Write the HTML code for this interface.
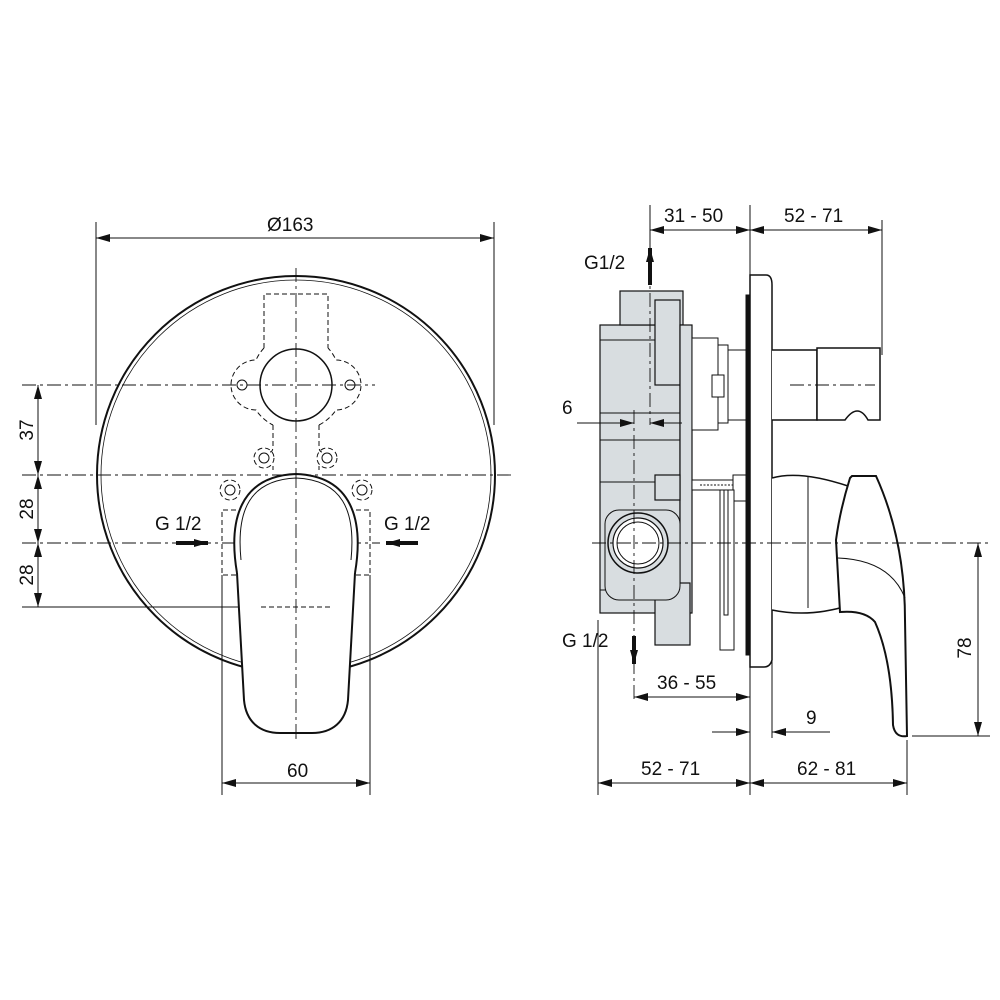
<!DOCTYPE html>
<html><head><style>
html,body{margin:0;padding:0;background:#fff;}
svg{display:block;}
text{font-family:"Liberation Sans",sans-serif;font-size:19px;fill:#111;}
</style></head><body>
<svg width="1000" height="1000" viewBox="0 0 1000 1000" xmlns="http://www.w3.org/2000/svg">
<defs>
<marker id="a" viewBox="0 0 14 8" refX="14" refY="4" markerWidth="14" markerHeight="8" orient="auto-start-reverse" markerUnits="userSpaceOnUse"><path d="M0,0 L14,4 L0,8 z" fill="#111"/></marker>
</defs>
<g stroke="#111" fill="none" stroke-width="1">
<line x1="96" y1="222" x2="96" y2="425"/>
<line x1="494" y1="222" x2="494" y2="425"/>
<line x1="96" y1="238" x2="494" y2="238" marker-start="url(#a)" marker-end="url(#a)"/>
<circle cx="296" cy="475" r="199" stroke-width="2"/>
<circle cx="296" cy="475" r="195" stroke-width="0.8"/>
<g stroke-dasharray="14 4 3 4" stroke-width="0.9">
<line x1="296" y1="268" x2="296" y2="740"/>
<line x1="22" y1="385" x2="375" y2="385"/>
<line x1="22" y1="475" x2="512" y2="475"/>
<line x1="22" y1="543" x2="380" y2="543"/>
</g>
<line x1="22" y1="607" x2="258" y2="607"/>
<g stroke-dasharray="5 3" stroke-width="1">
<path d="M264,348 V294 H328 V348"/>
<path d="M264,348 A45,45 0 0 0 256,360 A10,10 0 1 0 256,410 A45,45 0 0 0 273,425 M319,425 A45,45 0 0 0 336,410 A10,10 0 1 0 336,360 A45,45 0 0 0 328,348"/>
<path d="M273,425 V446 Q273,452 270,452 M319,425 V446 Q319,452 322,452"/>
<path d="M273,466 V470 M319,466 V470"/>
<circle cx="264" cy="458" r="10"/><circle cx="327" cy="458" r="10"/>
<circle cx="230" cy="490" r="10"/><circle cx="362" cy="490" r="10"/>
<path d="M236,510 H222 V575 H236 M356,510 H370 V575 H356"/>
<path d="M261,590 V604 H330 V590"/>
</g>
<circle cx="296" cy="385" r="36" stroke-width="1.5"/>
<circle cx="242" cy="385" r="5"/><circle cx="350" cy="385" r="5"/>
<circle cx="264" cy="458" r="5"/><circle cx="327" cy="458" r="5"/>
<circle cx="230" cy="490" r="5"/><circle cx="362" cy="490" r="5"/>
<circle cx="241" cy="547" r="1.5"/><circle cx="350" cy="547" r="1.5"/>
<path d="M237,573 C228,520 240,476 296,474 C352,476 364,520 355,573" stroke-width="2" fill="#fff"/>
<path d="M237,573 L244,700 C246,722 260,733 280,733 L312,733 C332,733 346,722 348,700 L355,573" stroke-width="2" fill="#fff"/>
<path d="M241,560 C236,510 250,480 296,478 C342,480 356,510 351,560" stroke-width="1"/>
<line x1="296" y1="474" x2="296" y2="740" stroke-dasharray="14 4 3 4" stroke-width="0.9"/>
<line x1="261" y1="607" x2="330" y2="607" stroke-dasharray="5 3"/>
<line x1="176" y1="543" x2="208" y2="543" stroke-width="4" marker-end="url(#a)"/>
<line x1="418" y1="543" x2="386" y2="543" stroke-width="4" marker-end="url(#a)"/>
<line x1="222" y1="575" x2="222" y2="795"/>
<line x1="370" y1="575" x2="370" y2="795"/>
<line x1="222" y1="783" x2="370" y2="783" marker-start="url(#a)" marker-end="url(#a)"/>
<line x1="38" y1="385" x2="38" y2="475" marker-start="url(#a)" marker-end="url(#a)"/>
<line x1="38" y1="475" x2="38" y2="543" marker-start="url(#a)" marker-end="url(#a)"/>
<line x1="38" y1="543" x2="38" y2="607" marker-start="url(#a)" marker-end="url(#a)"/>

<g fill="#d8dde0" stroke="#111" stroke-width="1.2">
<rect x="600" y="325" width="80" height="288"/>
<rect x="620" y="291" width="63" height="34"/>
<rect x="655" y="300" width="25" height="85"/>
<rect x="680" y="325" width="12" height="288"/>
<rect x="655" y="583" width="35" height="62"/>
<rect x="655" y="475" width="25" height="25"/>
</g>
<g stroke-width="1">
<line x1="600" y1="340" x2="655" y2="340"/><line x1="600" y1="413" x2="680" y2="413"/>
<line x1="600" y1="440" x2="680" y2="440"/><line x1="600" y1="482" x2="655" y2="482"/>
<line x1="600" y1="590" x2="655" y2="590"/>
<rect x="605" y="510" width="75" height="90" rx="14" fill="#d8dde0"/>
<circle cx="638" cy="543" r="30" fill="#d8dde0" stroke-width="1.5"/>
<circle cx="638" cy="543" r="25" fill="#fff" stroke-width="1.2"/>
<circle cx="638" cy="543" r="21" fill="#fff"/>
<rect x="692" y="338" width="26" height="92" fill="#fff"/>
<rect x="718" y="345" width="10" height="78" fill="#fff"/>
<rect x="712" y="375" width="12" height="22" fill="#fff"/>
<rect x="728" y="350" width="20" height="70" fill="#fff"/>
<rect x="692" y="480" width="60" height="10" fill="#fff"/>
<line x1="700" y1="485" x2="745" y2="485" stroke-dasharray="2 1.5"/>
<rect x="733" y="475" width="14" height="26" fill="#fff"/>
<rect x="720" y="490" width="14" height="160" fill="#fff"/>
<rect x="724" y="490" width="4" height="125" fill="#fff"/>
</g>
<rect x="746" y="295" width="4" height="360" fill="#111"/>
<path d="M750,275 H766 Q772,275 772,285 L772,660 Q770,667 764,667 H750 Z" fill="#fff" stroke-width="1.5"/>
<path d="M772,350 H817 V420 H772" fill="#fff" stroke-width="1.5"/>
<path d="M817,348 H880 V420 H868 Q858,402 845,420 H817 Z" fill="#fff" stroke-width="1.5"/>
<path d="M772,478 Q800,470 848,486 L850,605 Q810,618 772,610" fill="#fff" stroke-width="1.5"/>
<line x1="808" y1="476" x2="808" y2="608"/>
<path d="M850,478 L852,476 L876,476 Q905,540 905,620 L907,736 Q895,738 893,725 Q892,660 875,622 Q865,610 840,612 L836,540 Q840,510 850,478 Z" fill="#fff" stroke-width="2"/>
<path d="M838,558 Q890,560 905,598" stroke-width="1"/>
<g stroke-dasharray="14 4 3 4" stroke-width="0.9">
<line x1="650" y1="268" x2="650" y2="425"/>
<line x1="634" y1="410" x2="634" y2="700"/>
<line x1="790" y1="385" x2="875" y2="385"/>
<line x1="592" y1="543" x2="990" y2="543"/>
</g>
<line x1="650" y1="205" x2="650" y2="268"/>
<line x1="750" y1="205" x2="750" y2="275"/>
<line x1="882" y1="220" x2="882" y2="355"/>
<line x1="650" y1="230" x2="750" y2="230" marker-start="url(#a)" marker-end="url(#a)"/>
<line x1="750" y1="230" x2="882" y2="230" marker-start="url(#a)" marker-end="url(#a)"/>
<line x1="650" y1="285" x2="650" y2="248" stroke-width="4" marker-end="url(#a)"/>
<line x1="634" y1="636" x2="634" y2="664" stroke-width="4" marker-end="url(#a)"/>
<line x1="577" y1="423" x2="634" y2="423" marker-end="url(#a)"/>
<line x1="682" y1="423" x2="650" y2="423" marker-end="url(#a)"/>
<line x1="634" y1="697" x2="750" y2="697" marker-start="url(#a)" marker-end="url(#a)"/>
<line x1="750" y1="660" x2="750" y2="795"/>
<line x1="772" y1="660" x2="772" y2="738"/>
<line x1="712" y1="732" x2="750" y2="732" marker-end="url(#a)"/>
<line x1="830" y1="732" x2="772" y2="732" marker-end="url(#a)"/>
<line x1="598" y1="620" x2="598" y2="795"/>
<line x1="907" y1="740" x2="907" y2="795"/>
<line x1="598" y1="783" x2="750" y2="783" marker-start="url(#a)" marker-end="url(#a)"/>
<line x1="750" y1="783" x2="907" y2="783" marker-start="url(#a)" marker-end="url(#a)"/>
<line x1="912" y1="736" x2="990" y2="736"/>
<line x1="978" y1="543" x2="978" y2="736" marker-start="url(#a)" marker-end="url(#a)"/>
</g>
<text x="267" y="231">Ø163</text>
<text x="287" y="777">60</text>
<text x="155" y="530">G 1/2</text>
<text x="384" y="530">G 1/2</text>
<text transform="translate(33,430) rotate(-90)" text-anchor="middle">37</text>
<text transform="translate(33,509) rotate(-90)" text-anchor="middle">28</text>
<text transform="translate(33,575) rotate(-90)" text-anchor="middle">28</text>
<text x="664" y="222">31 - 50</text>
<text x="784" y="222">52 - 71</text>
<text x="584" y="269">G1/2</text>
<text x="562" y="414">6</text>
<text x="562" y="647">G 1/2</text>
<text x="657" y="689">36 - 55</text>
<text x="806" y="724">9</text>
<text x="641" y="775">52 - 71</text>
<text x="797" y="775">62 - 81</text>
<text transform="translate(971,648) rotate(-90)" text-anchor="middle">78</text>
</svg>
</body></html>
